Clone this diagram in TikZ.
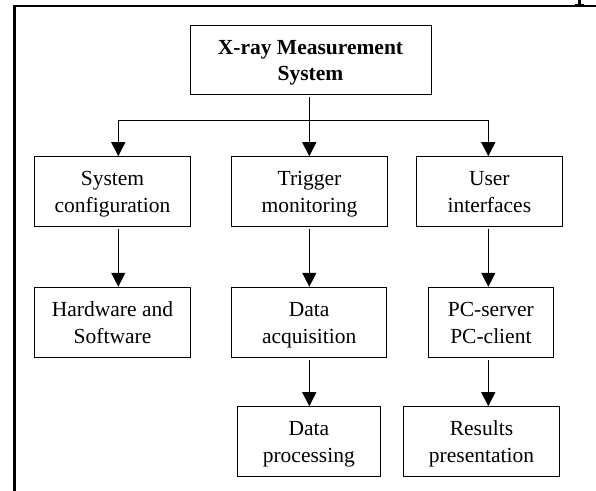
\documentclass[tikz,border=0pt]{standalone}
\usepackage{fontspec}
\setmainfont{Liberation Serif}
\usetikzlibrary{arrows.meta}
% invisible struts fixing the height of the first line and the depth of the last
\newcommand\firststrut{\rule{0pt}{21.2bp}}
\newcommand\laststrut{\rule[-6bp]{0pt}{6bp}}
\begin{document}
\begin{tikzpicture}[x=1bp,y=-1bp,
  box/.style={draw, line width=1bp, inner sep=0pt, align=center,
    font=\fontsize{21.5bp}{26.5bp}\selectfont},
  title/.style={box, font=\fontsize{21.5bp}{26.5bp}\selectfont\bfseries},
  arr/.style={line width=1.2bp, line join=miter, -{Triangle[length=14bp,width=14bp]}},
  bus/.style={line width=1.2bp, line join=miter,
    {Triangle[length=14bp,width=14bp]}-{Triangle[length=14bp,width=14bp]}},
  frame/.style={line width=2.2bp}]
\useasboundingbox (0,0) rectangle (596,491);

% page frame and the foot of a cut-off letter above it
\draw[frame] (14.5,491) -- (14.5,5.7) -- (596,5.7);
\fill (578,0) rectangle (580.6,4.5);
\fill (575,3.6) rectangle (584,5);

% boxes
\node[title, minimum width=241bp, minimum height=68.6bp] (top) at (310.5,60) {\firststrut X-ray Measurement\\System\laststrut};
\node[box, minimum width=155bp, minimum height=69.3bp] (r2L) at (112.5,191.35) {\firststrut System\\configuration\laststrut};
\node[box, minimum width=155.6bp, minimum height=69.3bp] (r2M) at (309.5,191.35) {\firststrut Trigger\\monitoring\laststrut};
\node[box, minimum width=146.7bp, minimum height=69.3bp] (r2R) at (489.35,191.35) {\firststrut User\\interfaces\laststrut};
\node[box, minimum width=155bp, minimum height=69.7bp] (r3L) at (112.5,322.15) {\firststrut Hardware and\\Software\laststrut};
\node[box, minimum width=155bp, minimum height=69.7bp] (r3M) at (309.2,322.15) {\firststrut Data\\acquisition\laststrut};
\node[box, minimum width=125.7bp, minimum height=69.7bp] (r3R) at (490.85,322.15) {\firststrut PC-server\\PC-client\laststrut};
\node[box, minimum width=143bp, minimum height=69.3bp] (r4M) at (308.8,441.35) {\firststrut Data\\processing\laststrut};
\node[box, minimum width=155.6bp, minimum height=69.3bp] (r4R) at (481.5,441.35) {\firststrut Results\\presentation\laststrut};

% branch line under the title
\coordinate (busL) at (118.3,120.7);
\coordinate (busM) at (309.3,120.7);
\coordinate (busR) at (488.3,120.7);
\draw[bus] (busL |- r2L.north) -- (busL) -- (busR) -- (busR |- r2R.north);
\draw[arr, shorten <=2.5bp] (busM |- top.south) -- (busM |- r2M.north);

% column connectors
\draw[arr, shorten <=2bp] (busL |- r2L.south) -- (busL |- r3L.north);
\draw[arr, shorten <=2bp] (busM |- r2M.south) -- (busM |- r3M.north);
\draw[arr, shorten <=2bp] (busM |- r3M.south) -- (busM |- r4M.north);
\draw[arr, shorten <=2bp] (busR |- r2R.south) -- (busR |- r3R.north);
\draw[arr, shorten <=2bp] (busR |- r3R.south) -- (busR |- r4R.north);
\end{tikzpicture}
\end{document}
